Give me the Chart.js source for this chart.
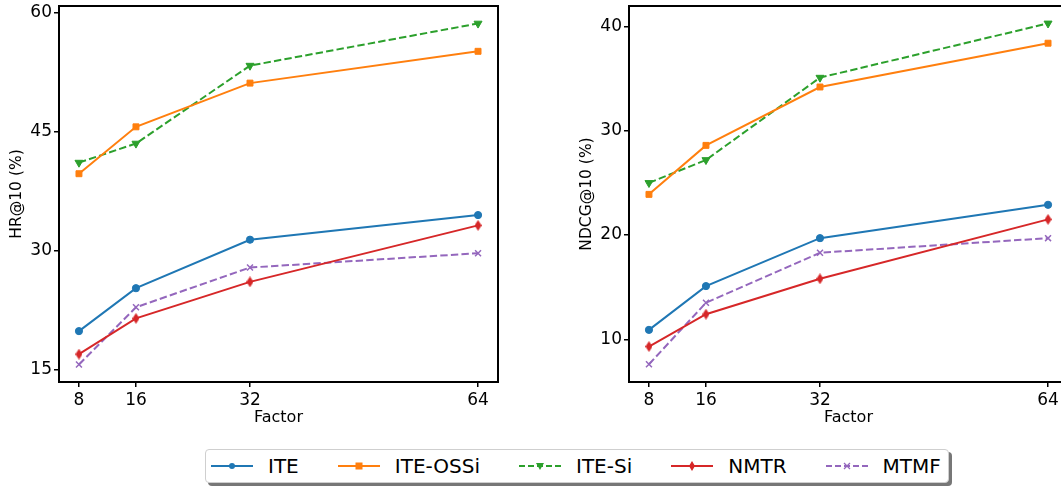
<!DOCTYPE html>
<html>
<head>
<meta charset="utf-8">
<script src="https://cdn.jsdelivr.net/npm/chart.js@4/dist/chart.umd.min.js"></script>
<style>
  html, body { margin:0; padding:0; width:1061px; height:487px; overflow:hidden; background:#fff; font-family:"DejaVu Sans", sans-serif; }
  #c1 { position:absolute; left:0; top:0; }
  #c2 { position:absolute; left:570px; top:0; }
  #legend { position:absolute; left:205px; top:449px; height:34px; box-sizing:border-box; border:1px solid #cfcfcf; border-radius:4px; background:#fff; box-shadow:3px 3px 0 #777; display:flex; align-items:center; padding-left:5px; padding-right:7px; font-size:20px; color:#000; }
  .item { display:flex; align-items:center; }
  .item canvas { margin-right:15px; }
  .item span { margin-right:39px; }
  .item:last-child span { margin-right:0; }
</style>
</head>
<body>
<canvas id="c1" width="520" height="440"></canvas>
<canvas id="c2" width="510" height="440"></canvas>
<div id="legend"></div>
<script>
// ---- data ----
const factors = [8, 16, 32, 64];
const xTicks = [8, 16, 32, 64];
const seriesNames = ["ITE", "ITE-OSSi", "ITE-Si", "NMTR", "MTMF"];

const hrITE  = [19.9, 25.3, 31.4, 34.5];
const hrOSSi = [39.7, 45.6, 51.1, 55.1];
const hrSi   = [41.1, 43.5, 53.3, 58.6];
const hrNMTR = [17.0, 21.5, 26.1, 33.2];
const hrMTMF = [15.7, 22.9, 27.9, 29.7];
const hrTicks = [15, 30, 45, 60];

const ndcgITE  = [10.9, 15.1, 19.7, 22.9];
const ndcgOSSi = [23.9, 28.6, 34.2, 38.4];
const ndcgSi   = [25.0, 27.2, 35.1, 40.3];
const ndcgNMTR = [9.3, 12.4, 15.8, 21.5];
const ndcgMTMF = [7.6, 13.5, 18.3, 19.7];
const ndcgTicks = [10, 20, 30, 40];

// ---- styles ----
const colors = ["#1f77b4", "#ff7f0e", "#2ca02c", "#d62728", "#9467bd"];
const dashes = [[], [], [7.4, 3.2], [], [7.4, 3.2]];

function thinDiamond(color, w, h) {
  const c = document.createElement('canvas');
  c.width = w; c.height = h;
  const g = c.getContext('2d');
  g.fillStyle = color;
  g.beginPath();
  g.moveTo(w/2, 0); g.lineTo(w, h/2); g.lineTo(w/2, h); g.lineTo(0, h/2);
  g.closePath(); g.fill();
  return c;
}
const diamondImg = thinDiamond(colors[3], 7, 11);

const markers = [
  { pointStyle: 'circle', radius: 3.6, rotation: 0, bw: 1 },
  { pointStyle: 'rect', radius: 4.2, rotation: 0, bw: 1 },
  { pointStyle: 'triangle', radius: 4.6, rotation: 180, bw: 1 },
  { pointStyle: diamondImg, radius: 5, rotation: 0, bw: 1 },
  { pointStyle: 'crossRot', radius: 4.2, rotation: 0, bw: 1.5 }
];

function makeDatasets(arrs) {
  return arrs.map((vals, i) => ({
    label: seriesNames[i],
    data: factors.map((f, j) => ({ x: f, y: vals[j] })),
    borderColor: colors[i],
    backgroundColor: colors[i],
    borderWidth: 2,
    borderDash: dashes[i],
    pointStyle: markers[i].pointStyle,
    pointRadius: markers[i].radius,
    pointRotation: markers[i].rotation,
    pointBorderWidth: markers[i].bw,
    pointBackgroundColor: colors[i],
    pointBorderColor: colors[i],
    tension: 0,
    fill: false
  }));
}

const framePlugin = {
  id: 'frame',
  afterDraw(chart) {
    const a = chart.chartArea, ctx = chart.ctx;
    ctx.save();
    ctx.strokeStyle = '#000';
    ctx.lineWidth = 2;
    ctx.strokeRect(a.left, a.top, a.right - a.left, a.bottom - a.top);
    ctx.restore();
  }
};

function makeChart(id, arrs, yTitle, yMin, yMax, yTicks, rightPad) {
  return new Chart(document.getElementById(id), {
    type: 'line',
    data: { datasets: makeDatasets(arrs) },
    options: {
      responsive: false,
      animation: false,
      layout: { padding: { left: 0, top: 5, right: rightPad, bottom: 0 } },
      plugins: { legend: { display: false }, tooltip: { enabled: false } },
      scales: {
        x: {
          type: 'linear',
          min: 5.2, max: 66.8,
          afterBuildTicks: s => { s.ticks = xTicks.map(v => ({ value: v })); },
          afterFit: s => { s.height = 58; s.paddingLeft = 0; s.paddingRight = 0; },
          grid: { drawOnChartArea: false, drawTicks: true, tickLength: 5, color: '#000', lineWidth: 1.5 },
          border: { display: false },
          ticks: { color: '#000', font: { family: 'DejaVu Sans', size: 17 }, padding: 3, maxRotation: 0 },
          title: { display: true, text: 'Factor', color: '#000', font: { family: 'DejaVu Sans', size: 16 }, padding: { top: 0, bottom: 13 } }
        },
        y: {
          type: 'linear',
          min: yMin, max: yMax,
          afterBuildTicks: s => { s.ticks = yTicks.map(v => ({ value: v })); },
          afterFit: s => { s.width = 59; s.paddingTop = 0; s.paddingBottom = 0; },
          grid: { drawOnChartArea: false, drawTicks: true, tickLength: 5, color: '#000', lineWidth: 1.5 },
          border: { display: false },
          ticks: { color: '#000', font: { family: 'DejaVu Sans', size: 17 }, padding: 2 },
          title: { display: true, text: yTitle, color: '#000', font: { family: 'DejaVu Sans', size: 15.5 }, padding: { top: 8, bottom: 0 } }
        }
      }
    },
    plugins: [framePlugin]
  });
}

makeChart('c1', [hrITE, hrOSSi, hrSi, hrNMTR, hrMTMF], 'HR@10 (%)', 13.5, 60.8, hrTicks, 22);
makeChart('c2', [ndcgITE, ndcgOSSi, ndcgSi, ndcgNMTR, ndcgMTMF], 'NDCG@10 (%)', 5.9, 41.97, ndcgTicks, 12);

// ---- legend ----
function drawMarker(g, i, x, y) {
  g.fillStyle = colors[i]; g.strokeStyle = colors[i];
  if (i === 0) { g.beginPath(); g.arc(x, y, 3, 0, Math.PI * 2); g.fill(); }
  else if (i === 1) { g.fillRect(x - 3.5, y - 3.5, 7, 7); }
  else if (i === 2) { g.beginPath(); g.moveTo(x - 4, y - 3); g.lineTo(x + 4, y - 3); g.lineTo(x, y + 4); g.closePath(); g.fill(); }
  else if (i === 3) { g.beginPath(); g.moveTo(x, y - 5); g.lineTo(x + 3, y); g.lineTo(x, y + 5); g.lineTo(x - 3, y); g.closePath(); g.fill(); }
  else { g.lineWidth = 1.3; g.beginPath(); g.moveTo(x - 3, y - 3); g.lineTo(x + 3, y + 3); g.moveTo(x + 3, y - 3); g.lineTo(x - 3, y + 3); g.stroke(); }
}
const leg = document.getElementById('legend');
seriesNames.forEach((name, i) => {
  const it = document.createElement('div'); it.className = 'item';
  const cv = document.createElement('canvas'); cv.width = 42; cv.height = 20;
  const g = cv.getContext('2d');
  g.strokeStyle = colors[i]; g.lineWidth = 2; g.setLineDash(dashes[i].length ? [6, 3] : []);
  g.beginPath(); g.moveTo(0, 10); g.lineTo(42, 10); g.stroke();
  g.setLineDash([]);
  drawMarker(g, i, 21, 10);
  const sp = document.createElement('span'); sp.textContent = name;
  it.appendChild(cv); it.appendChild(sp); leg.appendChild(it);
});
</script>
</body>
</html>
